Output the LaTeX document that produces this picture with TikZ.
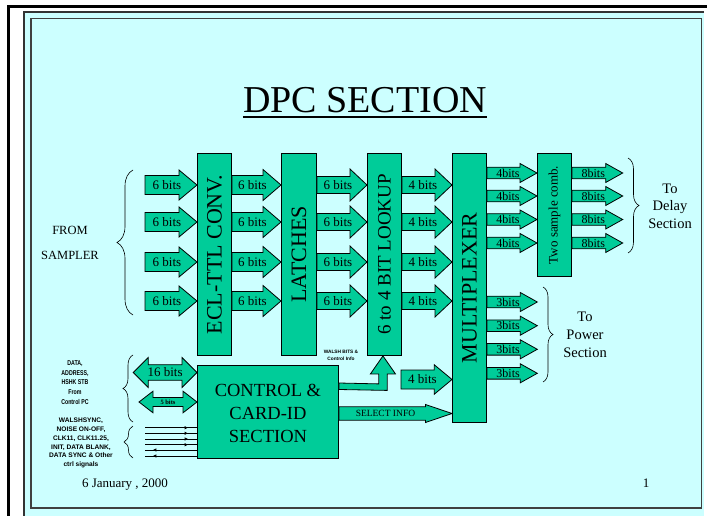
\documentclass[tikz,border=0pt]{standalone}
\usepackage{fontspec}
\setmainfont{Liberation Serif}
\newfontfamily\lsans{Liberation Sans}
\newfontfamily\nsans[FakeStretch=0.75]{Liberation Sans}
\usetikzlibrary{calc,decorations.pathreplacing,decorations.markings,arrows.meta}
\definecolor{slidebg}{RGB}{204,255,255}
\definecolor{boxgreen}{RGB}{0,204,153}
\newcommand{\blkarrow}[8]{%
  \draw[barrow] ($(#2)+(0,-#4)$) -- ($(#3)+(-#6,-#4)$) -- ($(#3)+(-#6,-#5)$) -- (#3)
    -- ($(#3)+(-#6,#5)$) -- ($(#3)+(-#6,#4)$) -- ($(#2)+(0,#4)$) -- cycle;
  \node[#7] (#1) at ($(#2)!0.5!(#3)+(-4,0)$) {#8};}
\newcommand{\dblarrow}[8]{%
  \draw[barrow] (#2) -- ($(#2)+(#6,-#5)$) -- ($(#2)+(#6,-#4)$) -- ($(#3)+(-#6,-#4)$)
    -- ($(#3)+(-#6,-#5)$) -- (#3) -- ($(#3)+(-#6,#5)$) -- ($(#3)+(-#6,#4)$)
    -- ($(#2)+(#6,#4)$) -- ($(#2)+(#6,#5)$) -- cycle;
  \node[#7] (#1) at ($(#2)!0.5!(#3)$) {#8};}
\begin{document}
\begin{tikzpicture}[x=1pt,y=-1pt,
  blk/.style={draw=black, line width=0.9pt, fill=boxgreen, anchor=north west, inner sep=0pt},
  barrow/.style={draw=black, line width=0.8pt, fill=boxgreen, line join=miter},
  vtext/.style={rotate=90, inner sep=0pt},
  lbl/.style={inner sep=0pt, font=\fontsize{13}{15}\selectfont},
  slbl/.style={inner sep=0pt, font=\fontsize{12}{14}\selectfont},
  brc/.style={decorate, decoration={brace, amplitude=#1}, draw=black, line width=0.6pt},
  ctlline/.style={draw=black, line width=0.9pt},
  txt/.style={inner sep=0pt, align=center},
]
\useasboundingbox (0,0) rectangle (707,516);
\clip (0,0) rectangle (707,516);
\fill[white] (0,0) rectangle (707,516);
\draw[line width=3pt] (8.5,540) -- (8.5,6.5) -- (720,6.5);
\fill[slidebg] (24,12) rectangle (703.5,530);
\draw[line width=1.5pt, black!80] (24,540) -- (24,12) -- (703.5,12);
\draw[line width=1.6pt, black!75] (31,18.5) rectangle (701.5,508);

% title
\node[inner sep=0pt, anchor=base, font=\fontsize{38}{40}\selectfont] (title) at (365,113) {DPC SECTION};
\draw[line width=1.3pt] ($(title.base west)+(0,4)$) -- ($(title.base east)+(0,4)$);

% blocks
\node[blk, minimum width=34pt, minimum height=202pt] (ecl) at (197,153) {};
\node[blk, minimum width=35pt, minimum height=202pt] (latch) at (281,153) {};
\node[blk, minimum width=34pt, minimum height=202pt] (lookup) at (367,153) {};
\node[blk, minimum width=34pt, minimum height=269pt] (mux) at (452,153) {};
\node[blk, minimum width=34pt, minimum height=123pt] (comb) at (537,153) {};
\node[blk, minimum width=141pt, minimum height=93pt] (ctrl) at (197,365) {};

\node[vtext, font=\fontsize{22}{24}\selectfont] (tecl) at (ecl) {ECL-TTL CONV.};
\node[vtext, font=\fontsize{22}{24}\selectfont] (tlat) at (latch) {LATCHES};
\node[vtext, font=\fontsize{19}{21}\selectfont] (tluk) at (lookup) {6 to 4 BIT LOOKUP};
\node[vtext, font=\fontsize{22}{24}\selectfont] (tmux) at (mux) {MULTIPLEXER};
\node[vtext, font=\fontsize{13}{15}\selectfont] (tcomb) at (comb) {Two sample comb.};
\node[txt, font=\fontsize{18.5}{23}\selectfont] (tctrl) at ($(ctrl)+(0,1)$) {CONTROL \&\\CARD-ID\\SECTION};

% main rows
\foreach \i/\y in {1/185,2/222,3/262,4/301}{
  \coordinate (in\i) at (145,\y);
  \coordinate (eclw\i) at (ecl.west |- in\i);
  \coordinate (ecle\i) at (ecl.east |- in\i);
  \coordinate (latw\i) at (latch.west |- in\i);
  \coordinate (late\i) at (latch.east |- in\i);
  \coordinate (lukw\i) at (lookup.west |- in\i);
  \coordinate (luke\i) at (lookup.east |- in\i);
  \coordinate (muxw\i) at (mux.west |- in\i);
}
\foreach \i in {1,2,3,4}{
  \blkarrow{ai\i}{in\i}{eclw\i}{9.5}{15}{18}{lbl}{6 bits}
  \blkarrow{ae\i}{ecle\i}{latw\i}{9.5}{15.5}{18}{lbl}{6 bits}
  \blkarrow{al\i}{late\i}{lukw\i}{8.5}{16}{17}{lbl}{6 bits}
  \blkarrow{ak\i}{luke\i}{muxw\i}{8.5}{16}{17}{lbl}{4 bits}
}

% mux -> comb and comb -> delay
\foreach \i/\y in {1/173,2/196,3/219.5,4/243}{
  \coordinate (my\i) at (0,\y);
  \coordinate (mxe\i) at (mux.east |- my\i);
  \coordinate (cbw\i) at (comb.west |- my\i);
  \coordinate (cbe\i) at (comb.east |- my\i);
  \coordinate (dly\i) at (622.7,\y);
}
\foreach \i in {1,2,3,4}{
  \blkarrow{am\i}{mxe\i}{cbw\i}{5.8}{9.5}{17}{slbl}{4bits}
  \blkarrow{ad\i}{cbe\i}{dly\i}{5.8}{9.5}{17}{slbl}{8bits}
}
% mux -> power
\foreach \i/\y in {1/302,2/325.7,3/349.3,4/373.3}{
  \coordinate (py\i) at (0,\y);
  \coordinate (pxe\i) at (mux.east |- py\i);
  \coordinate (pwr\i) at (537.3,\y);
}
\foreach \i in {1,2,3,4}{
  \blkarrow{ap\i}{pxe\i}{pwr\i}{5.8}{9.5}{17}{slbl}{3bits}
}

% braces and side texts
\draw[brc=16] (133,315) -- (133,170);
\node[txt, font=\fontsize{12.5}{25}\selectfont] (from) at (70,243) {FROM\\SAMPLER};
\draw[brc=11] (628,158) -- (628,253);
\node[txt, font=\fontsize{14.5}{17.5}\selectfont] (delay) at (670,206) {To\\Delay\\Section};
\draw[brc=10] (543,287) -- (543,382);
\node[txt, font=\fontsize{14.5}{18}\selectfont] (power) at (585,335) {To\\Power\\Section};

% control section inputs
\coordinate (d16) at (133.3,372.5);
\coordinate (d16r) at (ctrl.west |- d16);
\dblarrow{a16}{d16}{d16r}{7.8}{15}{15}{lbl}{16 bits}
\coordinate (d5) at (139,402);
\coordinate (d5r) at (ctrl.west |- d5);
\dblarrow{a5}{d5}{d5r}{4.5}{10.8}{14}{inner sep=0pt, font=\bfseries\fontsize{6.5}{7}\selectfont}{5 bits}

\foreach \i/\y in {1/427.7,2/433.3,3/439,4/444.7}{
  \coordinate (cl\i) at (145,\y);
  \draw[ctlline, postaction={decorate, decoration={markings, mark=at position 0.83 with {\arrow{Latex[length=3.5pt,width=3.5pt]}}}}] (cl\i) -- (ctrl.west |- cl\i);
}
\foreach \i/\y in {5/450,6/456}{
  \coordinate (cl\i) at (145,\y);
  \draw[ctlline, postaction={decorate, decoration={markings, mark=at position 0.15 with {\arrowreversed{Latex[length=3.5pt,width=3.5pt]}}}}] (cl\i) -- (ctrl.west |- cl\i);
}
\draw[brc=10] (133,422) -- (133,355);
\draw[brc=9] (133,458) -- (133,426);
\node[txt, font=\nsans\bfseries\fontsize{7}{9.8}\selectfont] (grp1) at (75,382.5) {DATA,\\ADDRESS,\\HSHK STB\\From\\Control PC};
\node[txt, font=\lsans\bfseries\fontsize{6.6}{8.9}\selectfont] (grp2) at (81,443) {WALSHSYNC,\\NOISE ON-OFF,\\CLK11, CLK11.25,\\INIT, DATA BLANK,\\DATA SYNC \& Other\\ctrl signals};

% control outputs
\coordinate (bt) at ($(lookup.south)+(-1.5,0)$);
\draw[barrow] ($(ctrl.north east)+(0,18)$) -- ($(bt)+(-4.2,28)$) -- ($(bt)+(-4.2,18)$) -- ($(bt)+(-12.5,18)$)
  -- (bt) -- ($(bt)+(12.5,18)$) -- ($(bt)+(4.2,18)$) -- ($(bt)+(4.2,34.5)$) -- ($(ctrl.north east)+(0,24.5)$) -- cycle;
\node[txt, font=\lsans\bfseries\fontsize{4.8}{7}\selectfont] (walsh) at (341,355.5) {WALSH BITS \&\\Control Info};

\coordinate (fb) at (401,379.5);
\coordinate (fbt) at (mux.west |- fb);
\blkarrow{a4}{fb}{fbt}{9.5}{14.7}{17.7}{lbl}{4 bits}

\coordinate (sy) at (0,413.5);
\coordinate (ss) at (ctrl.east |- sy);
\coordinate (st) at (mux.west |- sy);
\blkarrow{asel}{ss}{st}{6.7}{9}{26.5}{inner sep=0pt, xshift=-6pt, font=\fontsize{9.5}{11}\selectfont}{SELECT INFO}

% footer
\node[inner sep=0pt, anchor=base, font=\fontsize{13}{15}\selectfont] (date) at (125,487) {6 January , 2000};
\node[inner sep=0pt, anchor=base, font=\fontsize{13}{15}\selectfont] (pg) at (646,487) {1};
\end{tikzpicture}
\end{document}
